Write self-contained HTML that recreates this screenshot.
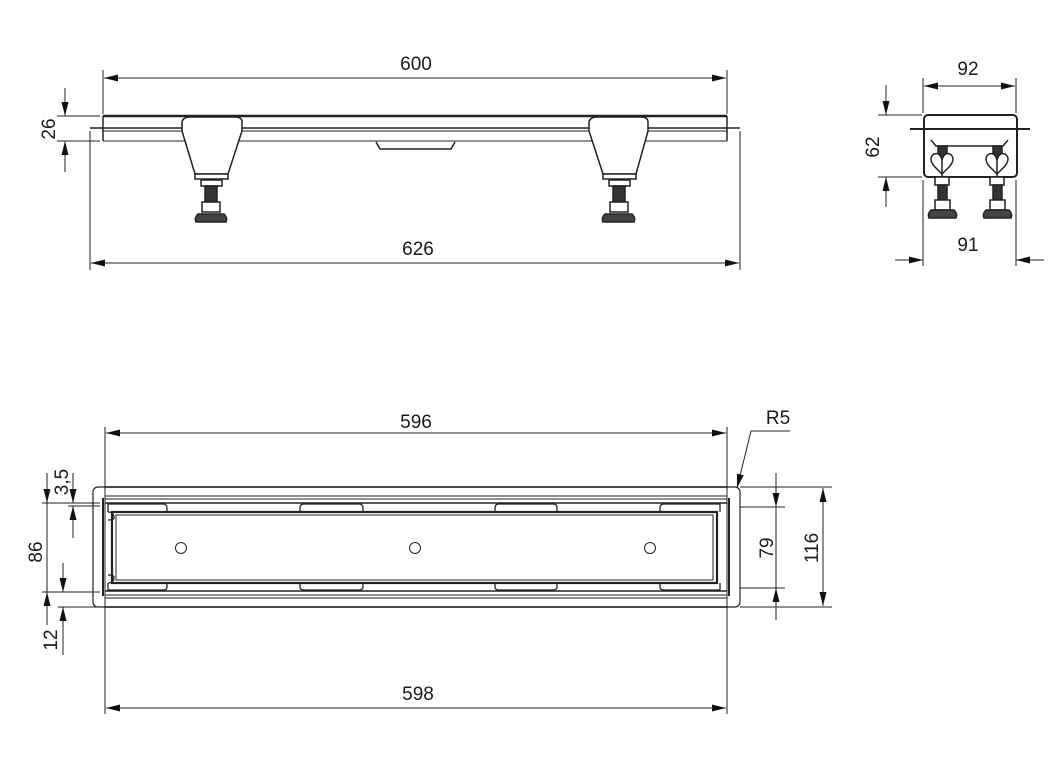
<!DOCTYPE html>
<html><head><meta charset="utf-8"><style>
html,body{margin:0;padding:0;background:#fff}
svg{display:block}
text{font-family:"Liberation Sans",sans-serif;font-size:19px;fill:#1a1a1a}
</style></head><body>
<svg width="1061" height="781" viewBox="0 0 1061 781" xmlns="http://www.w3.org/2000/svg">
<defs>
<marker id="a" viewBox="0 0 10 10" refX="10" refY="5" markerWidth="14" markerHeight="14" markerUnits="userSpaceOnUse" orient="auto-start-reverse"><path d="M0,2.5 L10,5 L0,7.5z" fill="#111"/></marker>
</defs>
<g stroke="#222" fill="none" stroke-width="1">
<!-- TOP VIEW -->
<line x1="103" y1="70" x2="103" y2="114"/><line x1="727" y1="70" x2="727" y2="114"/>
<line x1="104" y1="78" x2="726" y2="78" marker-start="url(#a)" marker-end="url(#a)"/>
<line x1="103" y1="116" x2="727" y2="116" stroke-width="2.5"/>
<line x1="90" y1="128" x2="740" y2="128" stroke-width="1.5"/>
<line x1="103" y1="131" x2="727" y2="131"/>
<line x1="103" y1="141" x2="727" y2="141"/>
<line x1="103" y1="116" x2="103" y2="141" stroke-width="1.5"/><line x1="727" y1="116" x2="727" y2="141" stroke-width="1.5"/>
<path d="M376,142 L380,149 L451,149 L455,142" stroke-width="1.5"/>
<line x1="90" y1="131" x2="90" y2="270"/><line x1="740" y1="131" x2="740" y2="270"/>
<line x1="91" y1="263" x2="739" y2="263" marker-start="url(#a)" marker-end="url(#a)"/>
<line x1="57" y1="116" x2="100" y2="116"/><line x1="57" y1="141" x2="100" y2="141"/>
<line x1="65" y1="88" x2="65" y2="116" marker-end="url(#a)"/>
<line x1="65" y1="172" x2="65" y2="141" marker-end="url(#a)"/>
<!-- feet -->
<g stroke-width="1.5" fill="#fff">
<path d="M182,131 L182,122 Q183,117 190,117 L235,117 Q242,117 242,122 L242,131"/>
<path d="M182,131 L195,174 L228,174 L242,131"/>
<rect x="195" y="174" width="33" height="5"/>
<rect x="201" y="180" width="21" height="6"/>
<rect x="205" y="186" width="12" height="16" fill="#333"/>
<rect x="202" y="202" width="18" height="10"/>
<path d="M196,222 L226,222 Q228,218 224,214 L198,214 Q194,218 196,222z" fill="#444"/>
<path d="M589,131 L589,122 Q590,117 597,117 L641,117 Q648,117 648,122 L648,131"/>
<path d="M589,131 L603,174 L636,174 L648,131"/>
<rect x="603" y="174" width="33" height="5"/>
<rect x="609" y="180" width="21" height="6"/>
<rect x="613" y="186" width="12" height="16" fill="#333"/>
<rect x="610" y="202" width="18" height="10"/>
<path d="M603,222 L634,222 Q636,218 632,214 L605,214 Q601,218 603,222z" fill="#444"/>
</g>
<!-- SIDE VIEW -->
<line x1="923" y1="78" x2="923" y2="113"/><line x1="1016" y1="78" x2="1016" y2="113"/>
<line x1="924" y1="86" x2="1015" y2="86" marker-start="url(#a)" marker-end="url(#a)"/>
<rect x="924" y="115" width="93" height="62" rx="4" stroke-width="2"/>
<line x1="910" y1="129" x2="1030" y2="129" stroke-width="2"/>
<path d="M931,140 L936,146 L1003,146 L1008,140" stroke-width="1.5"/>
<g stroke-width="1.5">
<rect x="938" y="146" width="9" height="14" fill="#333"/>
<rect x="993" y="146" width="9" height="14" fill="#333"/>
<path d="M942,174 L934,166 Q928,158 934,154 Q940,152 942,160 Q944,152 950,154 Q956,158 950,166 Z" fill="#fff"/>
<path d="M997,174 L989,166 Q983,158 989,154 Q995,152 997,160 Q999,152 1005,154 Q1011,158 1005,166 Z" fill="#fff"/>
<line x1="942" y1="160" x2="942" y2="177"/><line x1="997" y1="160" x2="997" y2="177"/>
<rect x="935" y="177" width="14" height="8" fill="#fff"/><rect x="990" y="177" width="14" height="8" fill="#fff"/>
<rect x="938" y="185" width="9" height="15" fill="#333"/><rect x="993" y="185" width="9" height="15" fill="#333"/>
<rect x="935" y="200" width="15" height="10" fill="#fff"/><rect x="990" y="200" width="15" height="10" fill="#fff"/>
<path d="M929,218 L956,218 Q958,214 954,210 L931,210 Q927,214 929,218z" fill="#444"/>
<path d="M984,218 L1011,218 Q1013,214 1009,210 L986,210 Q982,214 984,218z" fill="#444"/>
</g>
<line x1="878" y1="115" x2="922" y2="115"/><line x1="878" y1="177" x2="922" y2="177"/>
<line x1="886" y1="85" x2="886" y2="115" marker-end="url(#a)"/>
<line x1="886" y1="207" x2="886" y2="177" marker-end="url(#a)"/>
<line x1="923" y1="180" x2="923" y2="266"/><line x1="1016" y1="180" x2="1016" y2="266"/>
<line x1="895" y1="260" x2="923" y2="260" marker-end="url(#a)"/>
<line x1="1044" y1="260" x2="1016" y2="260" marker-end="url(#a)"/>
<!-- BOTTOM (PLAN) VIEW -->
<line x1="105" y1="427" x2="105" y2="714"/><line x1="727" y1="427" x2="727" y2="714"/>
<line x1="106" y1="433" x2="726" y2="433" marker-start="url(#a)" marker-end="url(#a)"/>
<line x1="106" y1="708" x2="726" y2="708" marker-start="url(#a)" marker-end="url(#a)"/>
<rect x="93" y="487" width="647" height="120" rx="5" stroke-width="1.2"/>
<line x1="105" y1="487" x2="727" y2="487" stroke-width="1.5"/>
<line x1="105" y1="496" x2="727" y2="496"/>
<line x1="105" y1="499" x2="727" y2="499"/>
<line x1="105" y1="503" x2="727" y2="503" stroke-width="1.5"/>
<line x1="105" y1="591" x2="727" y2="591" stroke-width="1.5"/>
<line x1="105" y1="595" x2="727" y2="595"/>
<line x1="105" y1="598" x2="727" y2="598"/>
<line x1="105" y1="607" x2="727" y2="607" stroke-width="1.5"/>
<line x1="103" y1="498" x2="103" y2="596" stroke-width="2"/>
<line x1="729" y1="498" x2="729" y2="596" stroke-width="2"/>
<rect x="112" y="512" width="605" height="71" stroke-width="2.2"/>
<rect x="116" y="515" width="597" height="65"/>
<g stroke-width="1.3">
<path d="M108,512 L108,504 L163,504 Q167,504 167,508 L167,512"/>
<path d="M300,512 L300,508 Q300,504 304,504 L359,504 Q363,504 363,508 L363,512"/>
<path d="M495,512 L495,508 Q495,504 499,504 L553,504 Q557,504 557,508 L557,512"/>
<path d="M660,512 L660,508 Q660,504 664,504 L720,504 L720,512"/>
<path d="M108,583 L108,590 L163,590 Q167,590 167,587 L167,583"/>
<path d="M300,583 L300,587 Q300,590 304,590 L359,590 Q363,590 363,587 L363,583"/>
<path d="M495,583 L495,587 Q495,590 499,590 L553,590 Q557,590 557,587 L557,583"/>
<path d="M660,583 L660,587 Q660,590 664,590 L720,590 L720,583"/>
<path d="M108,512 Q114,512 114,518 Q114,520 108,520"/>
<path d="M108,583 Q114,583 114,577 Q114,575 108,575"/>
</g>
<circle cx="181" cy="548" r="5.5"/><circle cx="415" cy="548" r="5.5"/><circle cx="650" cy="548" r="5.5"/>
<!-- left dims -->
<line x1="42" y1="503" x2="100" y2="503"/><line x1="68" y1="506" x2="100" y2="506"/>
<line x1="42" y1="592" x2="100" y2="592"/><line x1="58" y1="607" x2="100" y2="607"/>
<line x1="47" y1="473" x2="47" y2="503" marker-end="url(#a)"/>
<line x1="47" y1="625" x2="47" y2="592" marker-end="url(#a)"/>
<line x1="47" y1="503" x2="47" y2="592"/>
<line x1="73" y1="473" x2="73" y2="503" marker-end="url(#a)"/>
<line x1="73" y1="538" x2="73" y2="506" marker-end="url(#a)"/>
<line x1="63" y1="563" x2="63" y2="592" marker-end="url(#a)"/>
<line x1="63" y1="655" x2="63" y2="607" marker-end="url(#a)"/>
<!-- right dims -->
<line x1="740" y1="487" x2="832" y2="487"/><line x1="740" y1="607" x2="832" y2="607"/>
<line x1="740" y1="507" x2="785" y2="507"/><line x1="740" y1="588" x2="785" y2="588"/>
<line x1="776" y1="473" x2="776" y2="507" marker-end="url(#a)"/>
<line x1="776" y1="620" x2="776" y2="588" marker-end="url(#a)"/>
<line x1="776" y1="507" x2="776" y2="588"/>
<line x1="823" y1="488" x2="823" y2="606" marker-start="url(#a)" marker-end="url(#a)"/>
<polyline points="790,431 751,431 737,488" marker-end="url(#a)"/>
</g>
<text x="416" y="70" text-anchor="middle">600</text>
<text x="418" y="255" text-anchor="middle">626</text>
<text transform="translate(55,129) rotate(-90)" text-anchor="middle">26</text>
<text x="968" y="75" text-anchor="middle">92</text>
<text x="968" y="251" text-anchor="middle">91</text>
<text transform="translate(879,147) rotate(-90)" text-anchor="middle">62</text>
<text x="416" y="428" text-anchor="middle">596</text>
<text x="418" y="700" text-anchor="middle">598</text>
<text x="778" y="424" text-anchor="middle">R5</text>
<text transform="translate(42,552) rotate(-90)" text-anchor="middle">86</text>
<text transform="translate(68,482) rotate(-90)" text-anchor="middle">3,5</text>
<text transform="translate(57,640) rotate(-90)" text-anchor="middle">12</text>
<text transform="translate(773,548) rotate(-90)" text-anchor="middle">79</text>
<text transform="translate(818,548) rotate(-90)" text-anchor="middle">116</text>
</svg>
</body></html>
